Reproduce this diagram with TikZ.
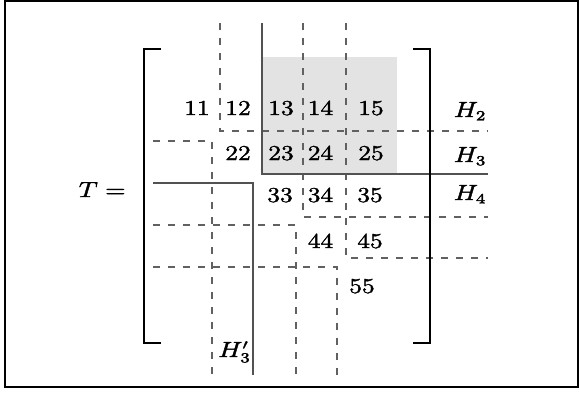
\documentclass[tikz,border=0pt]{standalone}
\usepackage{graphicx}
\newcommand\sxt[1]{\special{pdf:code q 2 Tr 0.16 w}\scalebox{1.2}[1.0]{#1}\special{pdf:code Q}}
\begin{document}
\begin{tikzpicture}[x=0.5pt,y=-0.5pt,
  dline/.style={draw=black!62,line width=0.55pt,dash pattern=on 3.5pt off 4pt},
  sline/.style={draw=black!68,line width=0.6pt},
  brk/.style={draw=black,line width=1.1pt},
  entry/.style={anchor=base,inner sep=0pt,font=\fontsize{10.6}{12}\selectfont},
  hlab/.style={anchor=base east,inner sep=0pt,font=\fontsize{10.6}{12}\selectfont}]
\useasboundingbox (0,0) rectangle (579,392);
\draw[line width=1.1pt] (5,1) rectangle (578,387);
% gray block
\fill[black!11] (262,57) rectangle (397,174);
% lines
\draw[dline] (220,23) -- (220,131) -- (488,131);
\draw[dline] (303,23) -- (303,217) -- (488,217);
\draw[dline] (346,23) -- (346,258) -- (488,258);
\draw[dline] (153,141) -- (212,141) -- (212,375);
\draw[dline] (153,225) -- (296,225) -- (296,375);
\draw[dline] (153,267) -- (337,267) -- (337,375);
\draw[sline] (262,23) -- (262,174) -- (488,174);
\draw[sline] (153,183) -- (253,183) -- (253,375);
% brackets
\draw[brk] (161,49) -- (144,49) -- (144,343) -- (161,343);
\draw[brk] (413,49) -- (430,49) -- (430,343) -- (413,343);
% entries
\node[entry] (e11) at (197,115) {\sxt{11}};
\node[entry] (e12) at (238,115) {\sxt{12}};
\node[entry] (e13) at (281,115) {\sxt{13}};
\node[entry] (e14) at (320.5,115) {\sxt{14}};
\node[entry] (e15) at (371,115) {\sxt{15}};
\node[entry] (e22) at (238,160) {\sxt{22}};
\node[entry] (e23) at (281,160) {\sxt{23}};
\node[entry] (e24) at (320.5,160) {\sxt{24}};
\node[entry] (e25) at (371,160) {\sxt{25}};
\node[entry] (e33) at (280,202) {\sxt{33}};
\node[entry] (e34) at (320.5,202) {\sxt{34}};
\node[entry] (e35) at (370,202) {\sxt{35}};
\node[entry] (e44) at (320.5,248) {\sxt{44}};
\node[entry] (e45) at (370,248) {\sxt{45}};
\node[entry] (e55) at (362,293) {\sxt{55}};
% labels
\node[hlab] (h2) at (487,117) {\sxt{$H_2$}};
\node[hlab] (h3) at (487,162) {\sxt{$H_3$}};
\node[hlab] (h4) at (487,200) {\sxt{$H_4$}};
\node[anchor=base west,inner sep=0pt,font=\fontsize{10.6}{12}\selectfont] (h3p) at (218,357) {\sxt{$H_3'$}};
\node[hlab] (T) at (126,197) {\sxt{$T =$}};
\end{tikzpicture}
\end{document}
